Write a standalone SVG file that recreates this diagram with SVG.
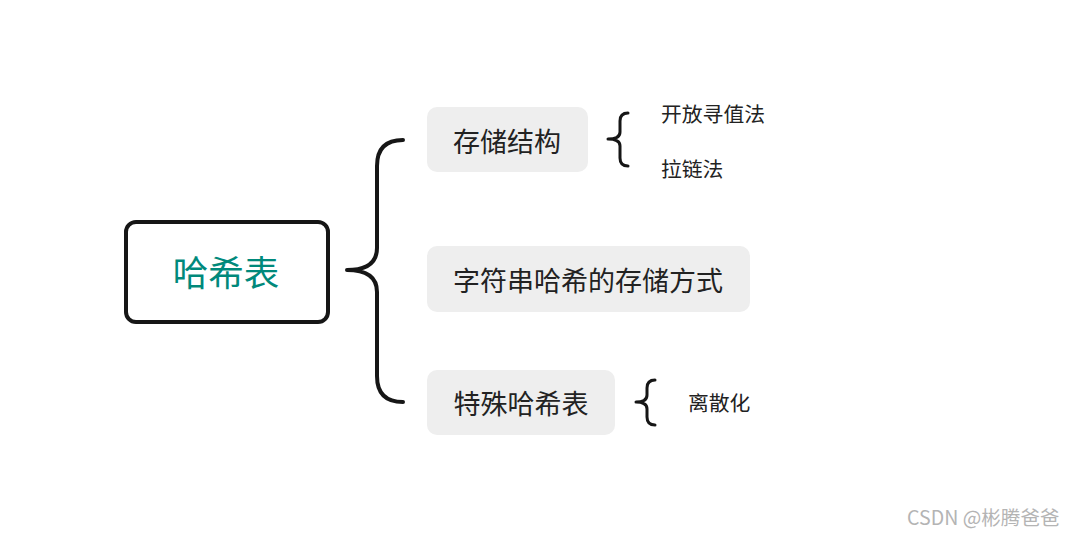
<svg xmlns="http://www.w3.org/2000/svg" width="1075" height="534" viewBox="0 0 1075 534">
<style>
.t{font-family:"Noto Sans CJK SC","Noto Sans",sans-serif;dominant-baseline:central}
.box{fill:#eeeeee}
.br{fill:none;stroke:#161616;stroke-linecap:round;stroke-linejoin:round}
</style>
<rect width="1075" height="534" fill="#ffffff"/>
<g id="connectors">
<path class="br" stroke-width="4" d="M403,140 C386,140 377,148 377,166 L377,248 C377,263 367,270 347,270 C367,270 377,277 377,292 L377,376 C377,394 386,402 403,402"/>
<path class="br" stroke-width="3" d="M628,113 C622,113 620,116 620,121 L620,132 C620,137 616,139 608,139 C616,139 620,141 620,146 L620,158 C620,163 622,166 628,166"/>
<path class="br" stroke-width="3" d="M655,380 C649,380 647,383 647,388 L647,395 C647,400 643,402 636,402 C643,402 647,404 647,409 L647,417 C647,422 649,425 655,425"/>
</g>
<g id="root">
<rect x="126" y="222" width="202" height="100" rx="10" fill="#ffffff" stroke="#161616" stroke-width="4"/>
<text class="t" x="226" y="270" font-size="35.5" fill="#00897b" text-anchor="middle">哈希表</text>
</g>
<g id="n1">
<rect class="box" x="427" y="107" width="161" height="65" rx="10"/>
<text class="t" x="507" y="140" font-size="27" fill="#222222" text-anchor="middle">存储结构</text>
</g>
<g id="n2">
<rect class="box" x="427" y="246" width="323" height="66" rx="10"/>
<text class="t" x="588" y="279" font-size="27" fill="#222222" text-anchor="middle">字符串哈希的存储方式</text>
</g>
<g id="n3">
<rect class="box" x="427" y="370" width="188" height="65" rx="10"/>
<text class="t" x="521" y="402" font-size="27" fill="#222222" text-anchor="middle">特殊哈希表</text>
</g>
<g id="n1a"><text class="t" x="661" y="113" font-size="20.8" fill="#222222">开放寻值法</text></g>
<g id="n1b"><text class="t" x="661" y="168" font-size="20.8" fill="#222222">拉链法</text></g>
<g id="n3a"><text class="t" x="688" y="402" font-size="20.8" fill="#222222">离散化</text></g>
<text class="t" x="907" y="516" font-size="19.6" fill="#b4b4b4">CSDN @彬腾爸爸</text>
</svg>
